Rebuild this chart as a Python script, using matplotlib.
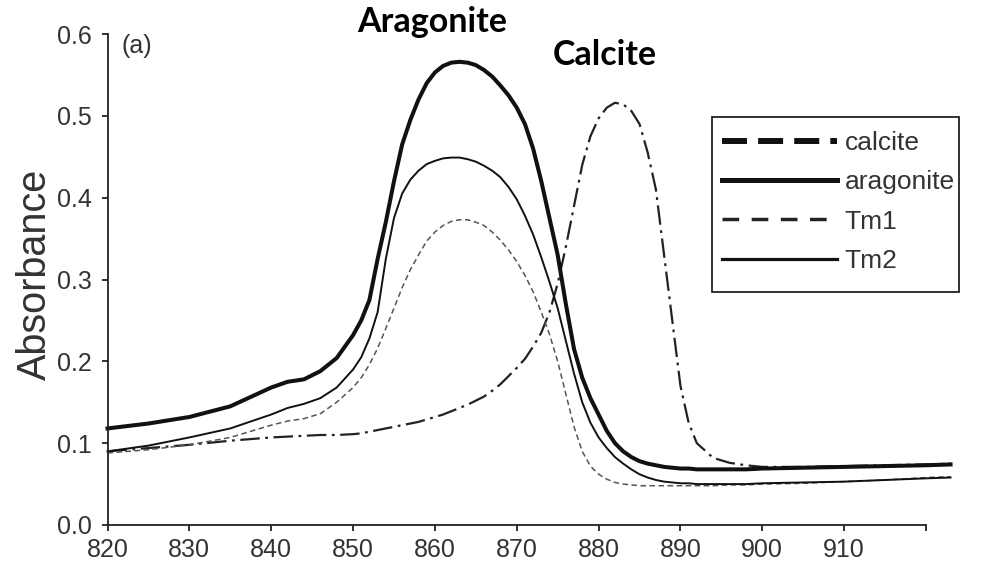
import matplotlib
matplotlib.use("Agg")
import matplotlib.pyplot as plt
from matplotlib.lines import Line2D
from matplotlib.patches import Rectangle

plt.rcParams['font.family'] = ['Liberation Sans', 'DejaVu Sans']
plt.rcParams['lines.scale_dashes'] = False

wavenumber = [820, 825, 830, 835, 840, 842, 844, 846, 848, 850, 851, 852, 853, 854, 855, 856, 857, 858, 859,
              860, 861, 862, 863, 864, 865, 866, 867, 868, 869, 870, 871, 872, 873, 874, 875, 876, 877, 878,
              879, 880, 881, 882, 883, 884, 885, 886, 887, 888, 889, 890, 891, 892, 894, 896, 898, 900, 905,
              910, 915, 920, 923]

aragonite = [0.118, 0.124, 0.132, 0.145, 0.168, 0.175, 0.178, 0.188, 0.204, 0.232, 0.250, 0.275, 0.325, 0.370,
             0.420, 0.465, 0.495, 0.520, 0.540, 0.553, 0.561, 0.565, 0.566, 0.565, 0.562, 0.556, 0.548, 0.537,
             0.525, 0.510, 0.490, 0.460, 0.420, 0.375, 0.330, 0.270, 0.215, 0.180, 0.155, 0.135, 0.115, 0.100,
             0.090, 0.083, 0.078, 0.075, 0.073, 0.071, 0.070, 0.069, 0.069, 0.068, 0.068, 0.068, 0.068, 0.069,
             0.070, 0.071, 0.072, 0.073, 0.074]

tm2 = [0.090, 0.097, 0.107, 0.118, 0.135, 0.143, 0.148, 0.155, 0.168, 0.190, 0.205, 0.228, 0.260, 0.325,
       0.375, 0.405, 0.422, 0.433, 0.441, 0.445, 0.448, 0.449, 0.449, 0.447, 0.444, 0.439, 0.433, 0.425,
       0.413, 0.398, 0.378, 0.355, 0.327, 0.297, 0.265, 0.225, 0.185, 0.150, 0.125, 0.107, 0.094, 0.083,
       0.075, 0.068, 0.062, 0.058, 0.055, 0.053, 0.052, 0.051, 0.051, 0.050, 0.050, 0.050, 0.050, 0.051,
       0.052, 0.053, 0.055, 0.057, 0.058]

tm1 = [0.088, 0.092, 0.098, 0.107, 0.122, 0.127, 0.130, 0.136, 0.150, 0.168, 0.180, 0.196, 0.216, 0.240,
       0.265, 0.290, 0.312, 0.330, 0.347, 0.358, 0.366, 0.371, 0.373, 0.373, 0.370, 0.366, 0.358, 0.348,
       0.336, 0.322, 0.305, 0.285, 0.260, 0.233, 0.200, 0.160, 0.120, 0.090, 0.072, 0.062, 0.056, 0.052,
       0.050, 0.049, 0.048, 0.048, 0.048, 0.048, 0.048, 0.048, 0.048, 0.048, 0.048, 0.049, 0.049, 0.050,
       0.051, 0.053, 0.055, 0.058, 0.059]

calcite = [0.090, 0.094, 0.098, 0.103, 0.107, 0.108, 0.109, 0.110, 0.110, 0.111, 0.112, 0.114, 0.116, 0.118,
           0.120, 0.122, 0.124, 0.126, 0.129, 0.132, 0.135, 0.139, 0.143, 0.147, 0.152, 0.157, 0.164, 0.172,
           0.182, 0.192, 0.203, 0.218, 0.235, 0.260, 0.295, 0.340, 0.390, 0.440, 0.475, 0.497, 0.510, 0.516,
           0.514, 0.506, 0.490, 0.455, 0.410, 0.330, 0.250, 0.170, 0.125, 0.100, 0.082, 0.076, 0.073, 0.071,
           0.071, 0.072, 0.073, 0.074, 0.075]

legend_labels = ['calcite', 'aragonite', 'Tm1', 'Tm2']
x_ticks = [820, 830, 840, 850, 860, 870, 880, 890, 900, 910, 920]
x_tick_labels = ['820', '830', '840', '850', '860', '870', '880', '890', '900', '910', '']
y_ticks = [0.0, 0.1, 0.2, 0.3, 0.4, 0.5, 0.6]
y_tick_labels = ['0.0', '0.1', '0.2', '0.3', '0.4', '0.5', '0.6']

W, H = 991, 566
fig = plt.figure(figsize=(W / 100, H / 100), dpi=100)
ax = fig.add_axes([107.5 / W, (H - 525) / H, (926 - 107.5) / W, (525 - 34) / H])

ax.plot(wavenumber, calcite, color='#222222', lw=1.6, dashes=(14, 4, 2, 4), clip_on=False)
ax.plot(wavenumber, tm1, color='#555555', lw=1.1, dashes=(4, 2.5), clip_on=False)
ax.plot(wavenumber, tm2, color='#111111', lw=1.4, clip_on=False)
ax.plot(wavenumber, aragonite, color='#111111', lw=2.9, clip_on=False)

ax.set_xlim(820, 920)
ax.set_ylim(0, 0.6)
ax.set_xticks(x_ticks)
ax.set_xticklabels(x_tick_labels)
ax.set_yticks(y_ticks)
ax.set_yticklabels(y_tick_labels)
for s in ['top', 'right']:
    ax.spines[s].set_visible(False)
for s in ['left', 'bottom']:
    ax.spines[s].set_linewidth(1.3)
    ax.spines[s].set_color('#222222')
ax.tick_params(axis='both', direction='out', length=4.5, width=1.3, color='#222222',
               labelsize=18, labelcolor='#333333')
ax.tick_params(axis='x', pad=5)
ax.tick_params(axis='y', pad=6.5)

fig.text(35 / W, 1 - 274 / H, 'Absorbance', rotation=90, ha='center', va='center',
         fontsize=28.5, color='#333333')
fig.text(137 / W, 1 - 46 / H, '(a)', ha='center', va='center', fontsize=18, color='#333333')
fig.text(432 / W, 1 - 22 / H, 'Aragonite', ha='center', va='center', fontsize=24.5,
         fontweight='bold', family=['Lato', 'DejaVu Sans'], color='black')
fig.text(605 / W, 1 - 55 / H, 'Calcite', ha='center', va='center', fontsize=24.5,
         fontweight='bold', family=['Lato', 'DejaVu Sans'], color='black')

handles = [
    Line2D([], [], color='#111111', lw=4.3, dashes=(18, 8)),
    Line2D([], [], color='#111111', lw=3.6),
    Line2D([], [], color='#222222', lw=2.5, dashes=(12, 9)),
    Line2D([], [], color='#111111', lw=2.3),
]
leg = fig.legend(handles, legend_labels, loc='upper left',
                 bbox_to_anchor=(722 / W, 1 - 131 / H), fontsize=19, frameon=False,
                 handlelength=4.35, handletextpad=0.3, labelspacing=0.58,
                 borderpad=0, borderaxespad=0)
for t in leg.get_texts():
    t.set_color('#333333')

fig.patches.append(Rectangle((712 / W, 1 - 292 / H), (959 - 712) / W, (292 - 117) / H,
                             transform=fig.transFigure, fill=False, edgecolor='#222222',
                             linewidth=1.3))

fig.savefig('out.png', dpi=100)
